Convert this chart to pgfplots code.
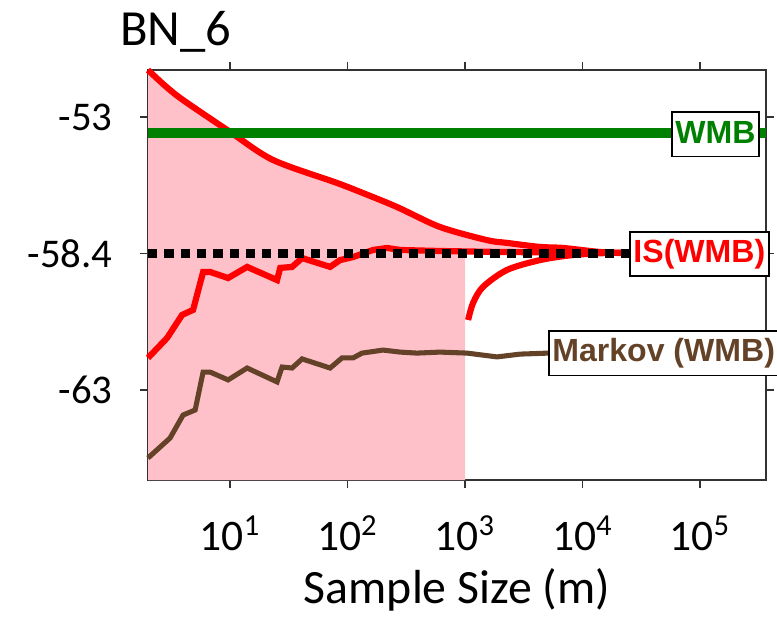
\documentclass[border=0pt]{standalone}
\usepackage{fontspec}
\setmainfont{Carlito}
\newfontfamily\boxfont{Liberation Sans}
\usepackage{pgfplots}
\pgfplotsset{compat=1.18}

\definecolor{isred}{RGB}{255,0,0}
\definecolor{wmbgreen}{RGB}{0,128,0}
\definecolor{mkbrown}{RGB}{99,66,40}
\definecolor{bandpink}{RGB}{255,193,201}

\tikzset{lbl/.style={draw=black, line width=0.55pt, fill=white, anchor=west,
    font=\boxfont\bfseries\fontsize{11.4}{12}\selectfont,
    inner xsep=1.3pt, inner ysep=2.4pt, text height=8.6pt, text depth=2.4pt}}

\begin{document}
\begin{tikzpicture}
\begin{axis}[
    name=ax,
    set layers,
    scale only axis,
    width=7.725cm,
    height=5.125cm,
    xmode=log,
    xmin=2, xmax=364800,
    ymin=-67.36, ymax=-51.14,
    xtick={10,100,1000,10000,100000},
    xticklabels={10\textsuperscript{1},10\textsuperscript{2},10\textsuperscript{3},10\textsuperscript{4},10\textsuperscript{5}},
    xminorticks=false,
    ytick={-53,-58.4,-63.8},
    yticklabels={-53,-58.4,-63},
    tick align=outside,
    major tick length=0.1cm,
    tick style={color=black!80, line width=0.6pt},
    axis line style={color=black!80, line width=0.8pt},
    xticklabel style={font=\fontsize{15.5}{18}\selectfont, anchor=base, yshift=-0.78cm},
    yticklabel style={font=\fontsize{14.5}{17}\selectfont, xshift=-0.22cm},
    title={BN\_6},
    title style={font=\fontsize{18}{22}\selectfont, at={(0.045,1)}, anchor=base, yshift=0.1cm},
    xlabel={Sample Size (m)},
    xlabel style={font=\fontsize{17}{20}\selectfont, at={(0.5,0)}, anchor=base, yshift=-1.54cm},
    clip=false,
]
% shaded confidence band
\addplot[fill=bandpink, draw=none] coordinates {
    (2,-51.14) (2.82,-51.78) (3.98,-52.33) (10,-53.59) (23.2,-54.70) (81.5,-55.61)
    (135.5,-56.01) (263.6,-56.56) (612,-57.35) (1000,-57.62) (1000,-58.4)
    (1000,-67.36) (2,-67.36)} -- cycle;
\addplot[fill=bandpink, draw=none] coordinates {
    (1000,-57.62) (1538,-57.87) (2275,-57.98) (4345,-58.14) (6823,-58.18)
    (14090,-58.34) (24890,-58.38) (24890,-58.4) (1000,-58.4)} -- cycle;

% IS upper bound
\addplot[isred, line width=2.2pt, smooth] coordinates {
    (2,-51.14) (2.82,-51.78) (3.98,-52.33) (10,-53.59) (23.2,-54.70) (81.5,-55.61)
    (135.5,-56.01) (263.6,-56.56) (612,-57.35) (1538,-57.87) (2275,-57.98)
    (4345,-58.14) (6823,-58.18) (14090,-58.34) (24890,-58.38)};
% IS estimate
\addplot[isred, line width=2.2pt] coordinates {
    (2,-62.53) (2.91,-61.74) (3.90,-60.83) (4.84,-60.63) (5.89,-59.13) (6.76,-59.13)
    (9.61,-59.37) (13.96,-58.93) (25.1,-59.45) (26.7,-58.97) (33.7,-58.93)
    (41.0,-58.58) (71.0,-58.93) (86.3,-58.66) (111.4,-58.54) (164.8,-58.26)
    (216.8,-58.18) (279.9,-58.26) (612,-58.30) (2000,-58.34) (24890,-58.38)};
% IS lower bound
\addplot[isred, line width=2.2pt, smooth] coordinates {
    (1062,-61.03) (1169,-60.36) (1422,-59.72) (2275,-59.05) (4345,-58.66)
    (8299,-58.46) (16180,-58.38) (24890,-58.38)};
% Markov
\addplot[mkbrown, line width=1.8pt] coordinates {
    (2,-66.49) (3.08,-65.70) (3.98,-64.79) (5.04,-64.59) (5.89,-63.09) (6.76,-63.09)
    (9.61,-63.40) (13.96,-62.93) (25.1,-63.48) (27.7,-62.89) (33.7,-62.93)
    (41.0,-62.57) (71.0,-62.93) (89.7,-62.53) (111.4,-62.53) (132.7,-62.34)
    (200.4,-62.22) (279.9,-62.30) (389.9,-62.34) (612,-62.30) (1040,-62.34)
    (1871,-62.49) (2938,-62.38) (5080,-62.34)};
% WMB
\addplot[wmbgreen, line width=3.5pt] coordinates {(2,-53.63) (364800,-53.63)};
% exact value
\addplot[black, line width=2.9pt, dash pattern=on 3.3pt off 2.5pt] coordinates {(2,-58.4) (24890,-58.4)};

\node[lbl, text=wmbgreen] at (axis cs:56620,-53.69) {WMB};
\node[lbl, text=isred] at (axis cs:24890,-58.42) {IS(WMB)};
\node[lbl, text=mkbrown] at (axis cs:5080,-62.34) {Markov (WMB)};
\end{axis}
\pgfresetboundingbox
\path ([xshift=-1.85cm, yshift=-1.7125cm]ax.south west) rectangle ([xshift=0.1375cm, yshift=0.875cm]ax.north east);
\end{tikzpicture}
\end{document}
